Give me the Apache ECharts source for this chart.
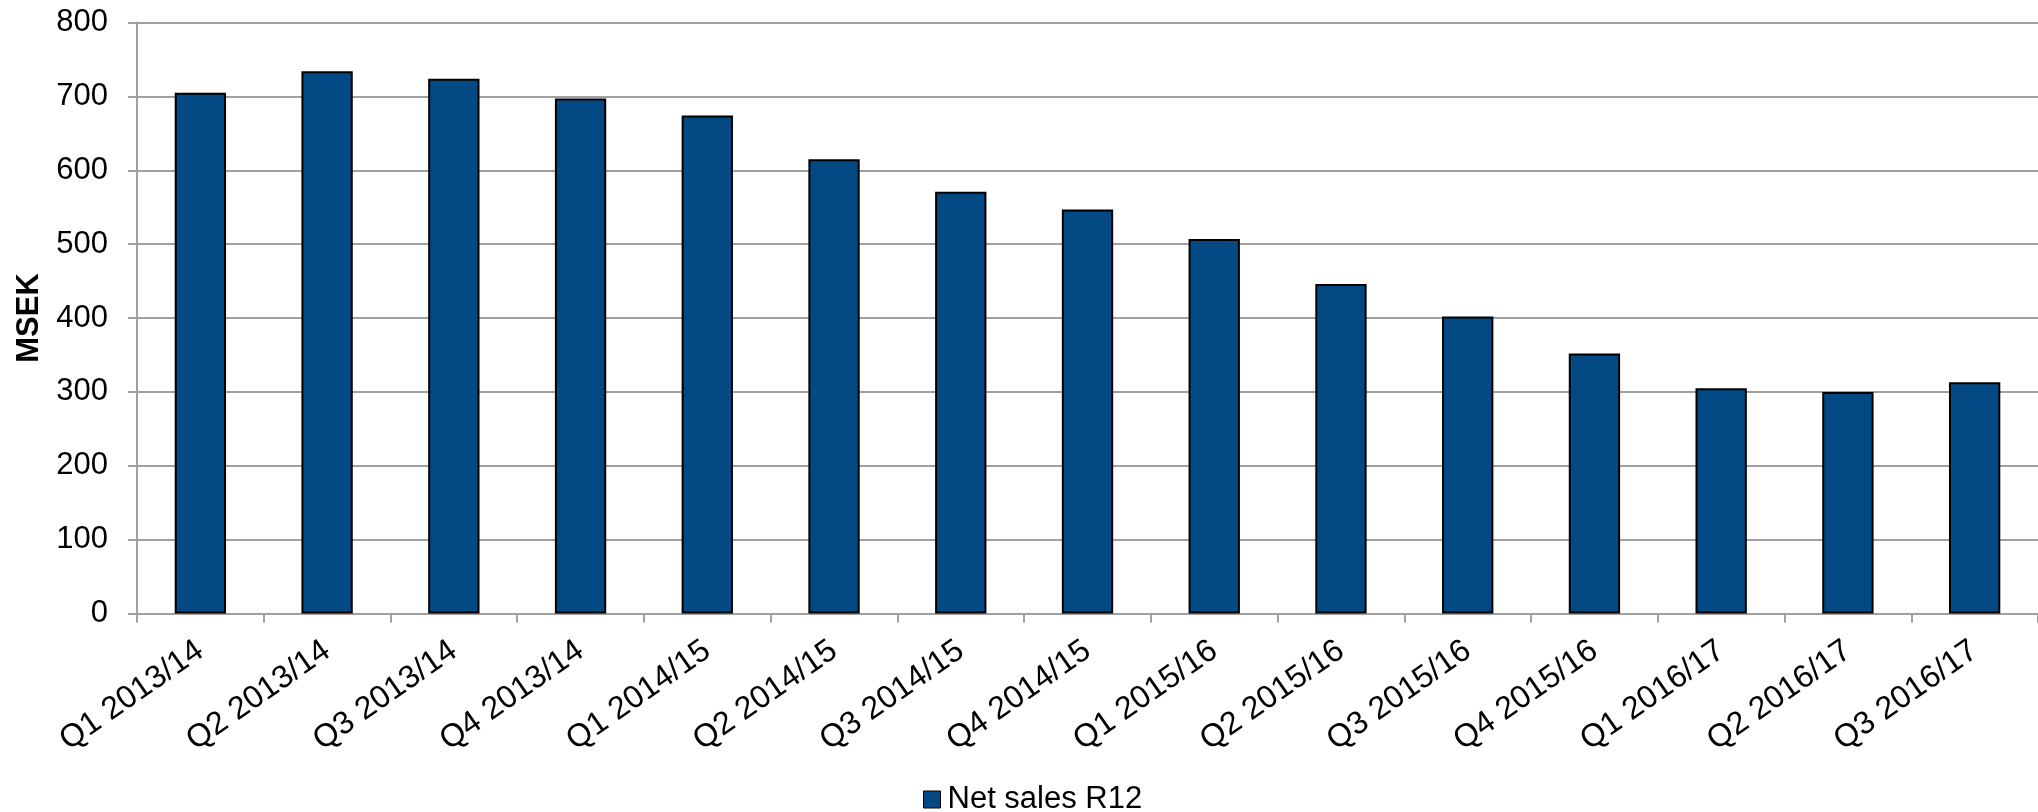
<!DOCTYPE html>
<html>
<head>
<meta charset="utf-8">
<script src="https://cdn.jsdelivr.net/npm/echarts@6/dist/echarts.min.js"></script>
<style>
html,body{margin:0;padding:0;background:#fff;}
#chart{width:2038px;height:812px;}
</style>
</head>
<body>
<div id="chart"></div>
<script>
const categories = ['Q1 2013/14','Q2 2013/14','Q3 2013/14','Q4 2013/14','Q1 2014/15','Q2 2014/15','Q3 2014/15','Q4 2014/15','Q1 2015/16','Q2 2015/16','Q3 2015/16','Q4 2015/16','Q1 2016/17','Q2 2016/17','Q3 2016/17'];
const netSalesR12 = [705, 734, 724, 697, 674, 615, 571, 547, 507, 446, 402, 352, 305, 300, 313];
const seriesName = 'Net sales R12';
const yAxisTitle = 'MSEK';

const FONT = '"Liberation Sans", Arial, sans-serif';
const chart = echarts.init(document.getElementById('chart'), null, {renderer: 'canvas'});
chart.setOption({
  animation: false,
  backgroundColor: '#ffffff',
  grid: {left: 137, right: 0, top: 22.5, bottom: 198.5, containLabel: false},
  legend: {
    data: [seriesName],
    left: 918, top: 779,
    itemWidth: 17, itemHeight: 17, itemGap: 10,
    icon: 'rect',
    textStyle: {fontFamily: FONT, fontSize: 31, color: '#000', padding: [0,0,0,2]},
    itemStyle: {borderColor: '#000', borderWidth: 1}
  },
  xAxis: {
    type: 'category',
    data: categories,
    boundaryGap: true,
    axisLine: {show: true, lineStyle: {color: '#a0a0a0', width: 2}},
    axisTick: {show: true, length: 9, alignWithLabel: false, lineStyle: {color: '#a0a0a0', width: 2}},
    axisLabel: {rotate: 35, margin: 34, interval: 0, fontFamily: FONT, fontSize: 32, color: '#000'},
    splitLine: {show: false}
  },
  yAxis: {
    type: 'value',
    min: 0, max: 800, interval: 100,
    name: yAxisTitle,
    nameLocation: 'middle',
    nameRotate: 90,
    nameGap: 90,
    nameTextStyle: {fontFamily: FONT, fontSize: 31, fontWeight: 'bold', color: '#000'},
    axisLine: {show: true, lineStyle: {color: '#a0a0a0', width: 2}},
    axisTick: {show: true, length: 9, lineStyle: {color: '#a0a0a0', width: 2}},
    axisLabel: {margin: 29, fontFamily: FONT, fontSize: 31, color: '#000'},
    splitLine: {show: true, lineStyle: {color: '#a0a0a0', width: 2}}
  },
  series: [{
    name: seriesName,
    type: 'bar',
    data: netSalesR12,
    barWidth: '40.5%',
    itemStyle: {color: '#034983', borderColor: '#000', borderWidth: 2}
  }]
});
</script>
</body>
</html>
